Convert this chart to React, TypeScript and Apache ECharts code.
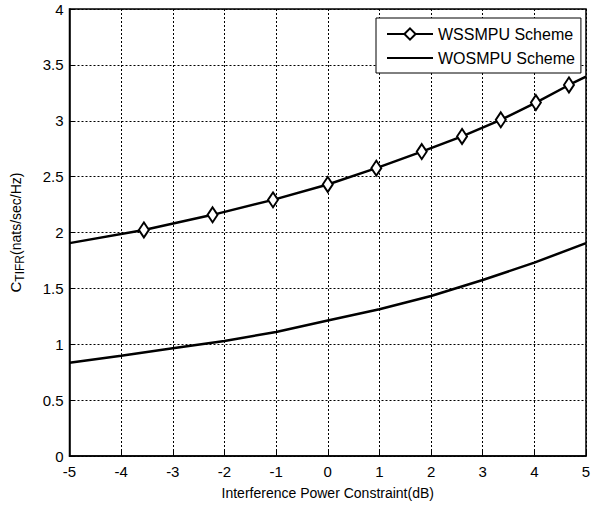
import React, { useEffect, useRef } from "react";
import * as echarts from "echarts";

const wssmpuX = [-5, -3.56, -2.23, -1.06, 0.0, 0.94, 1.82, 2.6, 3.35, 4.03, 4.67, 5];
const wssmpuY = [1.905, 2.023, 2.158, 2.292, 2.43, 2.576, 2.724, 2.86, 3.008, 3.163, 3.32, 3.395];
const wssmpuMarked = [false, true, true, true, true, true, true, true, true, true, true, false];

const wosmpuX = [-5, -4, -3, -2, -1, 0, 1, 2, 3, 4, 5];
const wosmpuY = [0.835, 0.898, 0.964, 1.03, 1.11, 1.212, 1.313, 1.432, 1.575, 1.73, 1.905];

const FONT = "'Liberation Sans', Arial, sans-serif";

export default function App() {
  const ref = useRef<HTMLDivElement>(null);
  useEffect(() => {
    if (!ref.current) return;
    const chart = echarts.init(ref.current, undefined, { renderer: "svg" });
    const upper = wssmpuX.map((x, i) =>
      wssmpuMarked[i] ? [x, wssmpuY[i]] : { value: [x, wssmpuY[i]], symbol: "none" }
    );
    const lower = wosmpuX.map((x, i) => [x, wosmpuY[i]]);
    const grid = { color: "#000", width: 1, type: [2, 2] };
    chart.setOption({
      animation: false,
      backgroundColor: "#fff",
      textStyle: { fontFamily: FONT, color: "#000" },
      grid: {
        left: 68,
        right: 16,
        top: 9,
        bottom: 52,
        show: true,
        borderColor: "#000",
        borderWidth: 1.5,
        backgroundColor: "transparent",
      },
      legend: {
        orient: "vertical",
        left: 376,
        top: 18,
        backgroundColor: "#fff",
        borderColor: "#000",
        borderWidth: 1,
        borderRadius: 0,
        padding: [8, 6, 7, 10],
        itemWidth: 46,
        itemHeight: 14,
        itemGap: 8,
        textStyle: { fontFamily: FONT, fontSize: 16, color: "#000" },
        data: [
          { name: "WSSMPU Scheme" },
          { name: "WOSMPU Scheme", itemStyle: { opacity: 0 } },
        ],
      },
      xAxis: {
        type: "value",
        min: -5,
        max: 5,
        interval: 1,
        name: "Interference Power Constraint(dB)",
        nameLocation: "middle",
        nameGap: 30,
        nameTextStyle: { fontFamily: FONT, fontSize: 14, color: "#000" },
        axisLine: { show: true, onZero: false, lineStyle: { color: "#000", width: 1.5 } },
        axisTick: { show: true, inside: true, length: 5, lineStyle: { color: "#000" } },
        axisLabel: { fontFamily: FONT, fontSize: 15, color: "#000", margin: 8 },
        splitLine: { show: true, lineStyle: grid },
      },
      yAxis: {
        type: "value",
        min: 0,
        max: 4,
        interval: 0.5,
        name: "{c|C}{b|TIFR}{a|(nats/sec/Hz)}",
        nameLocation: "middle",
        nameGap: 44,
        nameTextStyle: {
          fontFamily: FONT,
          color: "#000",
          rich: {
            c: { fontFamily: FONT, fontSize: 15, color: "#000" },
            a: { fontFamily: FONT, fontSize: 14, color: "#000" },
            b: { fontFamily: FONT, fontSize: 12, color: "#000", padding: [8, 0, 0, 0] },
          },
        },
        axisLine: { show: true, onZero: false, lineStyle: { color: "#000", width: 1.5 } },
        axisTick: { show: true, inside: true, length: 5, lineStyle: { color: "#000" } },
        axisLabel: { fontFamily: FONT, fontSize: 15, color: "#000", margin: 6 },
        splitLine: { show: true, lineStyle: grid },
      },
      series: [
        {
          name: "WSSMPU Scheme",
          type: "line",
          data: upper,
          symbol: "diamond",
          symbolSize: [10, 15],
          showAllSymbol: true,
          lineStyle: { color: "#000", width: 2.5 },
          itemStyle: { color: "#fff", borderColor: "#000", borderWidth: 2 },
          z: 3,
        },
        {
          name: "WOSMPU Scheme",
          type: "line",
          data: lower,
          symbol: "circle",
          symbolSize: 0,
          showSymbol: false,
          lineStyle: { color: "#000", width: 2.5 },
          itemStyle: { color: "#000" },
          z: 3,
        },
      ],
    });
    return () => chart.dispose();
  }, []);
  return <div ref={ref} style={{ width: 602, height: 508, position: "absolute", left: 0, top: 0 }} />;
}
